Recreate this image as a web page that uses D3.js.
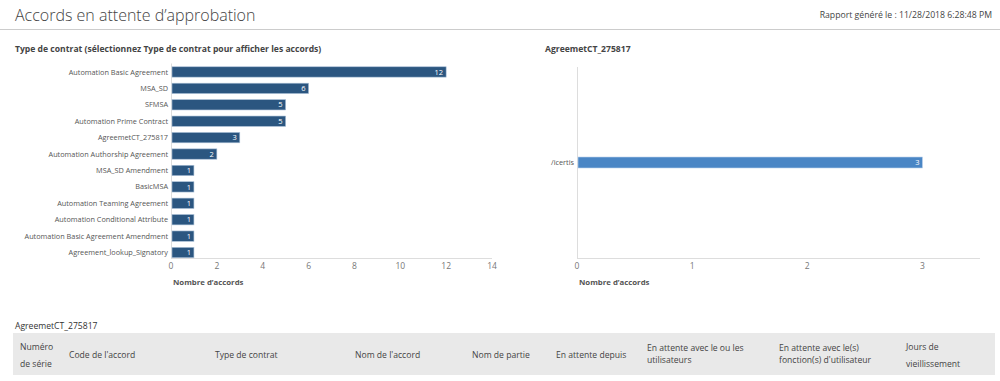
<!DOCTYPE html>
<html>
<head>
<meta charset="utf-8">
<script src="https://cdn.jsdelivr.net/npm/d3@7"></script>
<style>
  body { margin: 0; background: #fff; }
  svg { display: block; font-family: "Open Sans", "Noto Sans", sans-serif; }
  .cat-label { font-size: 7.3px; fill: #555; }
  .tick-label { font-size: 8.5px; fill: #777; }
  .bar-value { font-size: 7.5px; fill: #fff; }
  .axis-title { font-size: 7.8px; font-weight: bold; fill: #555; }
  .chart-title { font-size: 8.6px; font-weight: bold; fill: #444; }
  .th { font-size: 8.6px; fill: #444; }
</style>
</head>
<body>
<div id="chart"></div>
<script>
// chart data
const categories = [
  "Automation Basic Agreement", "MSA_SD", "SFMSA", "Automation Prime Contract",
  "AgreemetCT_275817", "Automation Authorship Agreement", "MSA_SD Amendment",
  "BasicMSA", "Automation Teaming Agreement", "Automation Conditional Attribute",
  "Automation Basic Agreement Amendment", "Agreement_lookup_Signatory"
];
const values = [12, 6, 5, 5, 3, 2, 1, 1, 1, 1, 1, 1];
const leftTicks = [0, 2, 4, 6, 8, 10, 12, 14];

const detailCategories = ["/icertis"];
const detailValues = [3];
const rightTicks = [0, 1, 2, 3];

const tableHeaders = [
  ["Numéro", "de série"], ["Code de l'accord"], ["Type de contrat"], ["Nom de l'accord"],
  ["Nom de partie"], ["En attente depuis"], ["En attente avec le ou les", "utilisateurs"],
  ["En attente avec le(s)", "fonction(s) d'utilisateur"], ["Jours de", "vieillissement"]
];
const headerX = [20, 69, 215, 355, 472, 556, 647, 779, 906];

const width = 1000, height = 381;
const svg = d3.select("#chart").append("svg")
  .attr("width", width).attr("height", height);

// header
svg.append("text").attr("x", 15).attr("y", 20.5)
  .style("font-size", "16px").style("font-weight", 300).attr("fill", "#444")
  .text("Accords en attente d’approbation");
svg.append("text").attr("x", 992).attr("y", 18).attr("text-anchor", "end")
  .style("font-size", "8.7px").attr("fill", "#444")
  .text("Rapport généré le : 11/28/2018 6:28:48 PM");
svg.append("line").attr("x1", 0).attr("x2", 1000).attr("y1", 29.5).attr("y2", 29.5)
  .attr("stroke", "#ccc");

function barChart(opts) {
  const x = d3.scaleLinear().domain(opts.domain).range([opts.x0, opts.x1]);
  const y = d3.scaleBand().domain(opts.cats).range([opts.y0, opts.y1])
    .paddingInner(opts.pad).paddingOuter(opts.padOuter);
  const g = svg.append("g");

  g.append("text").attr("class", "chart-title")
    .attr("x", opts.titleX).attr("y", 52).text(opts.title);

  // axis lines
  g.append("line").attr("x1", opts.x0 + 0.5).attr("x2", opts.x0 + 0.5)
    .attr("y1", opts.y0).attr("y2", opts.axisY).attr("stroke", "#ddd");
  g.append("line").attr("x1", opts.x0).attr("x2", opts.x1)
    .attr("y1", opts.axisY + 0.5).attr("y2", opts.axisY + 0.5).attr("stroke", "#ddd");

  g.selectAll(".tick-label").data(opts.ticks).join("text")
    .attr("class", "tick-label").attr("text-anchor", "middle")
    .attr("x", d => x(d)).attr("y", opts.axisY + 11).text(d => d);

  g.selectAll(".cat-label").data(opts.cats).join("text")
    .attr("class", "cat-label").attr("text-anchor", "end")
    .attr("x", opts.x0 - 3).attr("y", d => y(d) + y.bandwidth() / 2 + 2.6)
    .text(d => d);

  g.selectAll("rect").data(opts.vals).join("rect")
    .attr("x", opts.x0 + 1).attr("y", (d, i) => y(opts.cats[i]))
    .attr("width", d => x(d) - opts.x0 - 1).attr("height", y.bandwidth())
    .attr("fill", opts.color).attr("stroke", opts.stroke).attr("stroke-width", 0.6);

  g.selectAll(".bar-value").data(opts.vals).join("text")
    .attr("class", "bar-value").attr("text-anchor", "end")
    .attr("x", d => x(d) - 3).attr("y", (d, i) => y(opts.cats[i]) + y.bandwidth() / 2 + 2.7)
    .text(d => d);

  g.append("text").attr("class", "axis-title")
    .attr("x", opts.x0 + 2).attr("y", opts.axisY + 27).text("Nombre d’accords");
}

barChart({
  title: "Type de contrat (sélectionnez Type de contrat pour afficher les accords)",
  titleX: 15, cats: categories, vals: values, ticks: leftTicks,
  domain: [0, 14], x0: 171, x1: 492, y0: 63.5, y1: 261, axisY: 258, pad: 0.37, padOuter: 0.2,
  color: "#2b5680", stroke: "#a9bfd6"
});

barChart({
  title: "AgreemetCT_275817",
  titleX: 545, cats: detailCategories, vals: detailValues, ticks: rightTicks,
  domain: [0, 3.5], x0: 577, x1: 980, y0: 67, y1: 258, axisY: 258, pad: 0, padOuter: 8.2,
  color: "#4a86c5", stroke: "#b9d0ea"
});

// table
svg.append("text").attr("x", 15).attr("y", 329)
  .style("font-size", "8.6px").attr("fill", "#333").text("AgreemetCT_275817");
svg.append("rect").attr("x", 13).attr("y", 333).attr("width", 982).attr("height", 42)
  .attr("fill", "#e9e9e9");

const th = svg.selectAll(".th").data(tableHeaders).join("text")
  .attr("class", "th")
  .attr("x", (d, i) => headerX[i]);
th.each(function (d, i) {
  const t = d3.select(this);
  const tall = (i === 0 || i === 8);
  const gap = tall ? 17 : 12;
  const startY = d.length === 1 ? 358 : (tall ? 350 : 351);
  d.forEach((line, j) => {
    t.append("tspan").attr("x", headerX[i]).attr("y", startY + j * gap).text(line);
  });
});
</script>
</body>
</html>
